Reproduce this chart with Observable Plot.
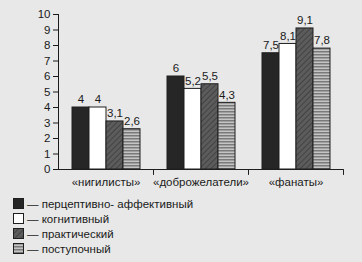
<!DOCTYPE html>
<html>
<head>
<meta charset="utf-8">
<script src="https://cdn.jsdelivr.net/npm/d3@7"></script>
<script src="https://cdn.jsdelivr.net/npm/@observablehq/plot@0.6"></script>
<style>
  html, body { margin: 0; padding: 0; background: #e8e8e8; }
  body { width: 362px; height: 262px; overflow: hidden; font-family: "Liberation Sans", Arial, sans-serif; color: #1a1a1a; }
  #legend { margin-left: 13px; font-size: 11.5px; }
  .row { height: 15px; display: flex; align-items: center; }
  .row svg { flex: none; margin-right: 3px; }
</style>
</head>
<body>
<div id="chart"></div>
<div id="legend"></div>
<script>
const categories = ["«нигилисты»", "«доброжелатели»", "«фанаты»"];
const seriesNames = ["перцептивно- аффективный", "когнитивный", "практический", "поступочный"];
const nihilists = [4, 4, 3.1, 2.6];
const wellwishers = [6, 5.2, 5.5, 4.3];
const fans = [7.5, 8.1, 9.1, 7.8];
const yTicks = [0, 1, 2, 3, 4, 5, 6, 7, 8, 9, 10];
const fills = ["#262626", "#ffffff", "url(#hatch)", "url(#stripes)"];

const groups = [nihilists, wellwishers, fans];
const data = [];
categories.forEach((c, i) => groups[i].forEach((v, j) => data.push({cat: c, series: seriesNames[j], idx: j, value: v})));

const fmt = v => String(v).replace(".", ",");

const tickShape = { draw(ctx, l) { ctx.moveTo(0, 0); ctx.lineTo(0, -l); } };

const plot = Plot.plot({
  width: 362,
  height: 196,
  marginLeft: 57,
  marginRight: 18,
  marginTop: 14,
  marginBottom: 27,
  style: { background: "transparent", fontFamily: "Liberation Sans, Arial, sans-serif", fontSize: "11.5px", color: "#1a1a1a" },
  fx: { domain: categories, padding: 0, label: null, tickSize: 0, tickPadding: 8, axis: "bottom" },
  x: { domain: seriesNames, paddingInner: 0, paddingOuter: 0.75, axis: null },
  y: { domain: [0, 10], ticks: yTicks, tickSize: 5, tickPadding: 3, label: null, line: true, tickFormat: d => String(d) },
  marks: [
    Plot.barY(data, { fx: "cat", x: "series", y: "value", fill: d => fills[d.idx], stroke: "#1e1e1e", strokeWidth: 1 }),
    Plot.text(data, { fx: "cat", x: "series", y: "value", text: d => fmt(d.value), dy: -8, fontSize: 11.5, fill: "#1a1a1a" }),
    Plot.ruleY([0], { stroke: "#1e1e1e" }),
    Plot.vector(categories, { fx: d => d, frameAnchor: "bottom-right", length: 5, rotate: 180, anchor: "start", shape: tickShape, stroke: "#1e1e1e", strokeWidth: 1 })
  ]
});

// patterns
const svg = d3.select(plot);
const defs = svg.insert("defs", ":first-child");
const hatch = defs.append("pattern").attr("id", "hatch").attr("patternUnits", "userSpaceOnUse").attr("width", 4).attr("height", 4).attr("patternTransform", "rotate(45)");
hatch.append("rect").attr("width", 4).attr("height", 4).attr("fill", "#5c5c5c");
hatch.append("line").attr("x1", 0).attr("y1", 0).attr("x2", 0).attr("y2", 4).attr("stroke", "#3a3a3a").attr("stroke-width", 1.5);
const stripes = defs.append("pattern").attr("id", "stripes").attr("patternUnits", "userSpaceOnUse").attr("width", 4).attr("height", 3);
stripes.append("rect").attr("width", 4).attr("height", 3).attr("fill", "#c4c4c4");
stripes.append("line").attr("x1", 0).attr("y1", 0.75).attr("x2", 4).attr("y2", 0.75).attr("stroke", "#7a7a7a").attr("stroke-width", 1.5);

document.getElementById("chart").appendChild(plot);

// legend
const legend = d3.select("#legend");
seriesNames.forEach((name, j) => {
  const row = legend.append("div").attr("class", "row");
  const s = row.append("svg").attr("width", 11).attr("height", 11);
  s.append("rect").attr("x", 0.5).attr("y", 0.5).attr("width", 10).attr("height", 10).attr("fill", fills[j]).attr("stroke", "#1e1e1e");
  row.append("span").text("— " + name);
});
</script>
</body>
</html>
